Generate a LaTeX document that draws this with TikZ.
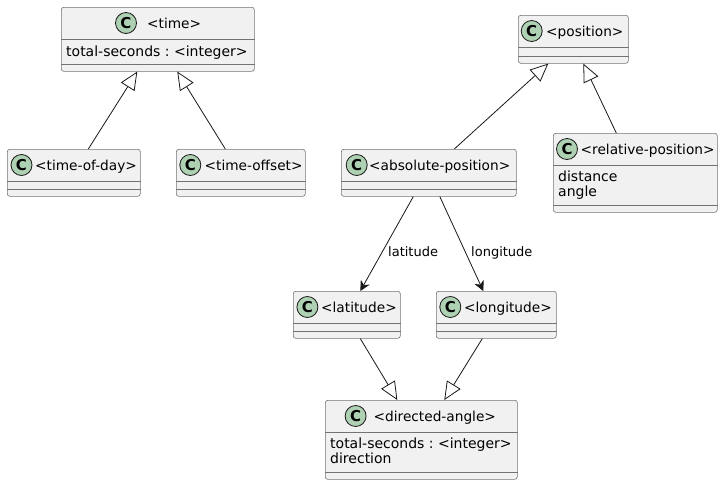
\documentclass[tikz,border=0pt]{standalone}
\usepackage{fontspec}
\setmainfont{DejaVu Sans}
\usetikzlibrary{arrows.meta}
\frenchspacing

\definecolor{umlfill}{HTML}{F1F1F1}
\definecolor{umlline}{HTML}{181818}
\definecolor{umlborder}{HTML}{737373}
\definecolor{umlbadge}{HTML}{ADD1B2}

\tikzset{
  cls/.style={draw=umlborder, fill=umlfill, line width=0.6pt, rounded corners=2.5pt,
    anchor=north west, inner sep=0pt},
  sepline/.style={draw=umlborder, line width=0.6pt},
  badge/.style={circle, draw=umlline, fill=umlbadge, line width=0.8pt, minimum size=21pt,
    inner sep=0pt, font=\fontsize{15}{15}\selectfont\bfseries},
  title/.style={anchor=base west, inner sep=0pt, font=\fontsize{13.7}{16}\selectfont},
  attr/.style={anchor=base west, inner sep=0pt, font=\fontsize{14}{16}\selectfont},
  lbl/.style={anchor=base west, inner sep=0pt, font=\fontsize{13}{15}\selectfont},
  isa/.style={draw=umlline, line width=0.8pt,
    -{Triangle[open, length=18pt, width=16pt, line width=0.8pt]}},
  has/.style={draw=umlline, line width=0.8pt,
    -{Stealth[length=10pt, width=10pt, inset=3pt]}}
}

% class box: name, x, y, width, height, badge offset, title offset, title
\newcommand{\umlclass}[8]{
  \node[cls, minimum width=#4pt, minimum height=#5pt] (#1) at (#2,#3) {};
  \draw[sepline] ([yshift=-32pt]#1.north west) -- ([yshift=-32pt]#1.north east);
  \draw[sepline] ([yshift=7.5pt]#1.south west) -- ([yshift=7.5pt]#1.south east);
  \node[badge] (#1-c) at ([xshift=#6pt, yshift=-16pt]#1.north west) {C};
  \node[title] (#1-t) at ([xshift=#7pt, yshift=-21pt]#1.north west) {#8};
}

\begin{document}
\begin{tikzpicture}[x=1pt, y=-1pt]
  \useasboundingbox[fill=white] (0,0) rectangle (723,485);

  % classes
  \umlclass{time}{61}{7}{193}{64}{65}{86}{<time>}
  \umlclass{tod}{7}{149}{133}{47}{14.5}{28}{<time-of-day>}
  \umlclass{toff}{176}{149}{129}{47}{14.3}{28.5}{<time-offset>}
  \umlclass{pos}{518}{15}{110}{48}{13.7}{28}{<position>}
  \umlclass{abs}{341}{149}{175}{47}{15.7}{28}{<absolute-position>}
  \umlclass{rel}{553}{133}{164}{79}{14}{27.5}{<relative-position>}
  \umlclass{lat}{293}{291}{107}{47}{14.4}{28}{<latitude>}
  \umlclass{lon}{436}{291}{120}{47}{14.3}{28}{<longitude>}
  \umlclass{dir}{325}{400}{192}{79}{30.6}{48.5}{<directed-angle>}

  % attributes
  \node[attr] (time-a1) at ([xshift=5pt, yshift=-49pt]time.north west) {total-seconds : <integer>};
  \node[attr] (rel-a1) at ([xshift=5pt, yshift=-48pt]rel.north west) {distance};
  \node[attr] (rel-a2) at ([xshift=5pt, yshift=-63.5pt]rel.north west) {angle};
  \node[attr] (dir-a1) at ([xshift=5pt, yshift=-48pt]dir.north west) {total-seconds : <integer>};
  \node[attr] (dir-a2) at ([xshift=5pt, yshift=-63.5pt]dir.north west) {direction};

  % inheritance
  \draw[isa] ([xshift=14.5pt]tod.north) -- ([xshift=-20.5pt]time.south);
  \draw[isa] ([xshift=-15.5pt]toff.north) -- ([xshift=19.5pt]time.south);
  \draw[isa] ([xshift=25.5pt]abs.north) -- ([xshift=-25pt]pos.south);
  \draw[isa] ([xshift=-19pt]rel.north) -- ([xshift=10pt]pos.south);
  \draw[isa] ([xshift=13.5pt]lat.south) -- ([xshift=-24pt]dir.north);
  \draw[isa] ([xshift=-14pt]lon.south) -- ([xshift=23pt]dir.north);

  % associations
  \draw[has] ([xshift=-15.5pt]abs.south) -- ([xshift=13.5pt]lat.north);
  \draw[has] ([xshift=11pt]abs.south) -- ([xshift=-13pt]lon.north);
  \node[lbl] (lat-l) at (388,256) {latitude};
  \node[lbl] (lon-l) at (471,256) {longitude};
\end{tikzpicture}
\end{document}
